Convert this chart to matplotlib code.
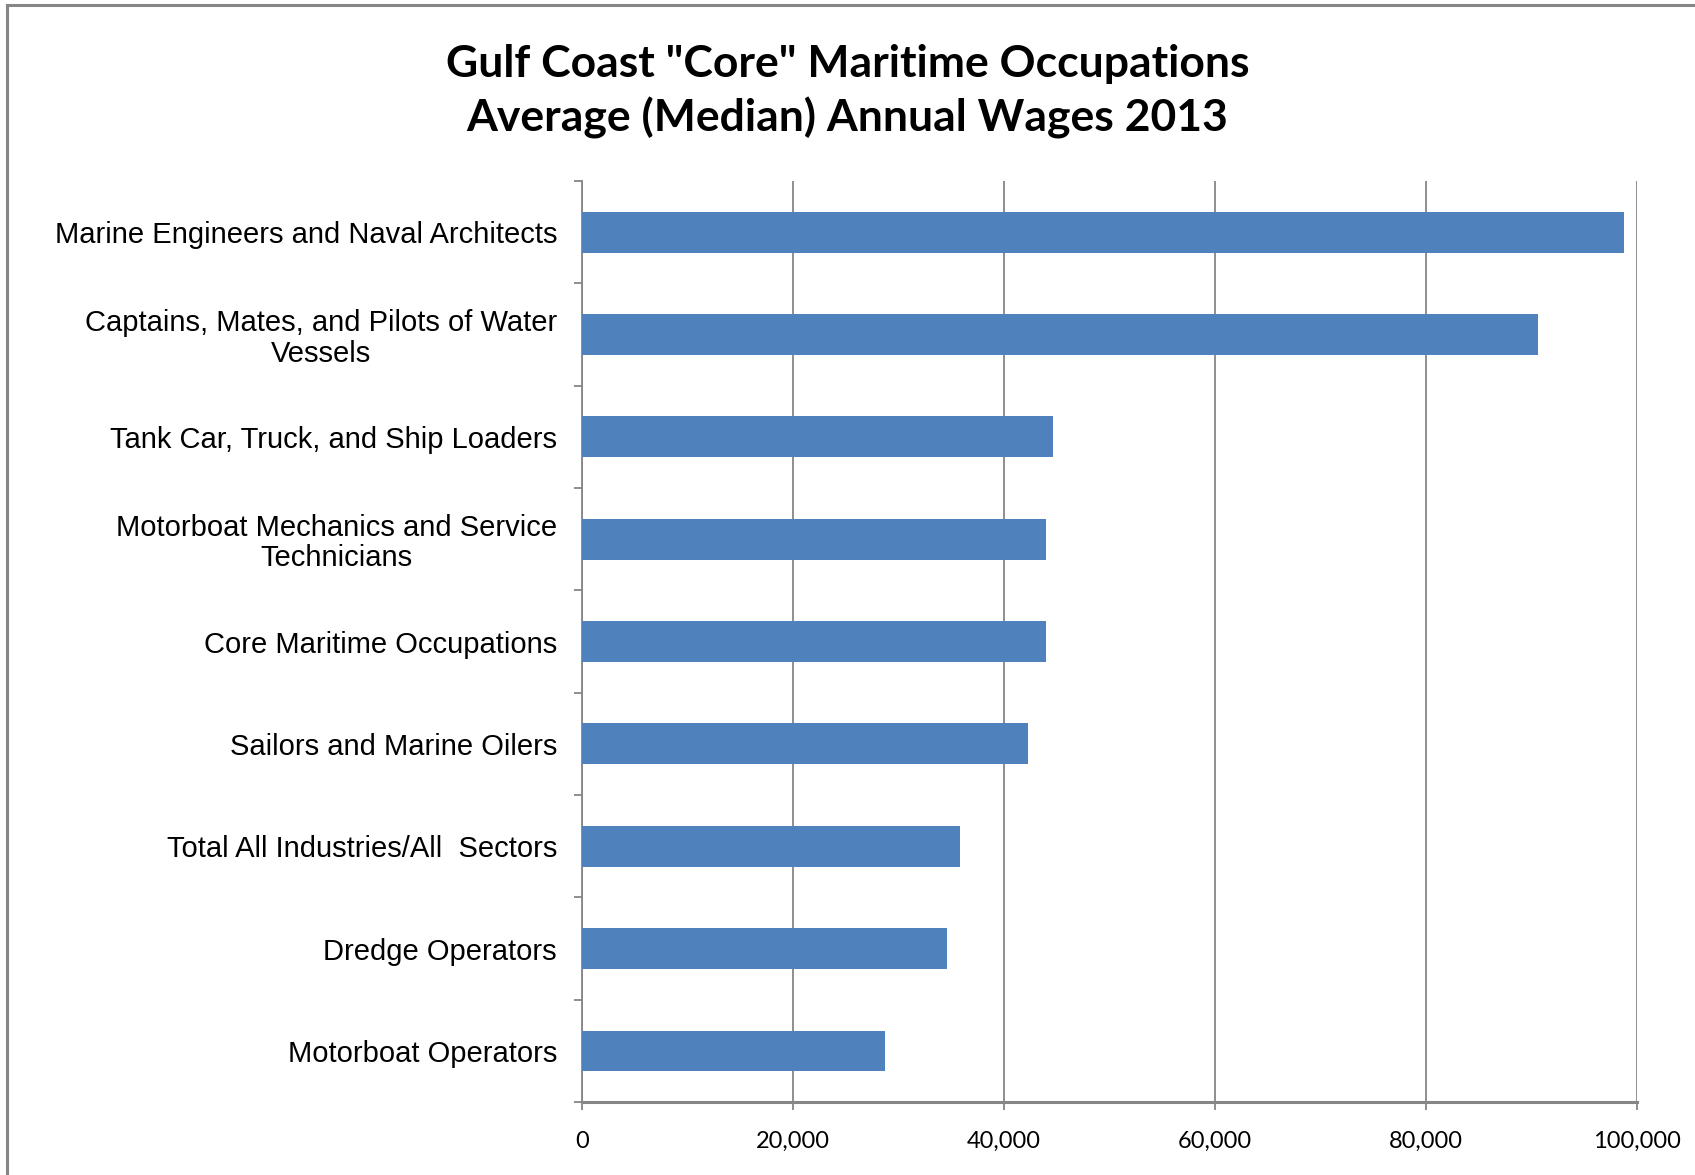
import matplotlib.pyplot as plt
import numpy as np
from matplotlib.lines import Line2D

# occupations, top to bottom as shown
occupations = ['Marine Engineers and Naval Architects',
               'Captains, Mates, and Pilots of Water\nVessels',
               'Tank Car, Truck, and Ship Loaders',
               'Motorboat Mechanics and Service\nTechnicians',
               'Core Maritime Occupations',
               'Sailors and Marine Oilers',
               'Total All Industries/All  Sectors',
               'Dredge Operators',
               'Motorboat Operators']
wages = [98800, 90600, 44600, 44000, 44000, 42300, 35800, 34600, 28700]
xticks = [0, 20000, 40000, 60000, 80000, 100000]
xtick_labels = ['0', '20,000', '40,000', '60,000', '80,000', '100,000']

grey = '#868686'
bar_color = '#4f81bd'

fig = plt.figure(figsize=(16.95, 11.75), dpi=100)
ax = fig.add_axes([0.3434, 0.062, 0.9658 - 0.3434, 0.846 - 0.062])

y = np.arange(len(occupations))
ax.barh(y, wages, height=0.4, color=bar_color, zorder=3)

ax.set_xlim(0, 100000)
ax.set_ylim(len(occupations) - 0.5, -0.5)

ax.set_xticks(xticks)
ax.set_xticklabels(xtick_labels, fontfamily='Lato', fontsize=17)
ax.xaxis.grid(True, color=grey, linewidth=1.3, zorder=0)
ax.tick_params(axis='x', direction='out', length=6, width=1.3, color=grey, pad=15)

# category ticks sit between the bars
ax.set_yticks(np.arange(len(occupations) + 1) - 0.5)
ax.set_yticklabels([])
ax.tick_params(axis='y', which='major', direction='out', length=6, width=1.3, color=grey)
ax.set_yticks(y, minor=True)
ax.set_yticklabels(occupations, minor=True, fontfamily='Liberation Sans', fontsize=21,
                   multialignment='center', linespacing=1.1)
ax.tick_params(axis='y', which='minor', length=0, pad=18)

for s in ['top', 'right']:
    ax.spines[s].set_visible(False)
ax.spines['left'].set_color(grey)
ax.spines['left'].set_linewidth(1.3)
ax.spines['bottom'].set_color(grey)
ax.spines['bottom'].set_linewidth(2.2)

fig.text(0.5, 0.9455, 'Gulf Coast "Core" Maritime Occupations', ha='center', va='center',
         fontfamily='Lato', fontweight='bold', fontsize=32)
fig.text(0.5, 0.8995, 'Average (Median) Annual Wages 2013', ha='center', va='center',
         fontfamily='Lato', fontweight='bold', fontsize=32)

# chart area border (top and left visible)
fig.add_artist(Line2D([0.004, 1.0], [0.9955, 0.9955], color=grey, linewidth=2.2))
fig.add_artist(Line2D([0.004, 0.004], [0.0, 0.9955], color=grey, linewidth=2.2))

fig.savefig('out.png', dpi=100)
